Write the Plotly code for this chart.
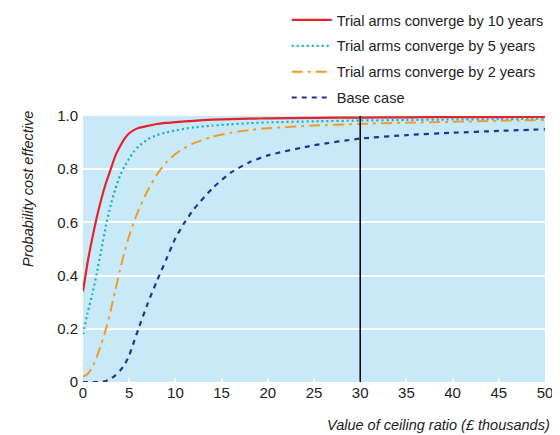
import plotly.graph_objects as go

x_vals = [0, 0.5, 1, 1.5, 2, 2.5, 3, 3.5, 4, 4.5, 5, 5.5, 6, 7, 8, 9, 10, 11, 12, 14, 16, 18, 20, 25, 30, 35, 40, 45, 50]

red_10y = [0.34, 0.45, 0.54, 0.62, 0.69, 0.75, 0.80, 0.85, 0.885, 0.915, 0.935, 0.947, 0.955, 0.963, 0.97, 0.974,
           0.977, 0.980, 0.982, 0.986, 0.988, 0.99, 0.991, 0.993, 0.994, 0.995, 0.996, 0.996, 0.997]
cyan_5y = [0.18, 0.26, 0.33, 0.41, 0.50, 0.59, 0.665, 0.725, 0.775, 0.81, 0.84, 0.865, 0.885, 0.912, 0.928, 0.938,
           0.946, 0.952, 0.957, 0.964, 0.969, 0.973, 0.976, 0.98, 0.983, 0.985, 0.987, 0.988, 0.99]
orange_2y = [0.02, 0.03, 0.055, 0.095, 0.145, 0.20, 0.27, 0.345, 0.42, 0.49, 0.55, 0.60, 0.645, 0.72, 0.78, 0.825,
             0.857, 0.88, 0.898, 0.922, 0.937, 0.947, 0.954, 0.964, 0.97, 0.975, 0.978, 0.982, 0.985]
navy_base = [0.0, 0.0, 0.0, 0.0, 0.001, 0.004, 0.012, 0.025, 0.042, 0.065, 0.10, 0.15, 0.20, 0.295, 0.38, 0.46,
             0.54, 0.60, 0.65, 0.728, 0.787, 0.826, 0.852, 0.89, 0.915, 0.928, 0.937, 0.944, 0.95]

names = ["Trial arms converge by 10 years", "Trial arms converge by 5 years",
         "Trial arms converge by 2 years", "Base case"]

x_ticks = [0, 5, 10, 15, 20, 25, 30, 35, 40, 45, 50]
y_ticks = [0, 0.2, 0.4, 0.6, 0.8, 1.0]
y_ticktext = ["0", "0.2", "0.4", "0.6", "0.8", "1.0"]
ceiling = 30

FONT = "Liberation Sans Narrow, Arial Narrow, Liberation Sans, Arial, sans-serif"

# the page body has an 8px margin; compensate so the figure sits at the window origin
OFF = 8
L, R, T, B = 83 - OFF, 15, 116 - OFF, 53
W, H = 560 - OFF, 435 - OFF
PW, PH = W - L - R, H - T - B

fig = go.Figure()
series = [
    (red_10y, "#e8202a", "solid", 2.2),
    (cyan_5y, "#18adc6", "2px,3px", 2.2),
    (orange_2y, "#f39a2b", "11px,5px,3px,5px", 2.0),
    (navy_base, "#2b2f8f", "5px,5px", 2.2),
]
for i, (ys, col, dash, w) in enumerate(series):
    fig.add_trace(go.Scatter(
        x=x_vals, y=ys, mode="lines", name=names[i], legendgroup=f"g{i}",
        line=dict(color=col, dash=dash, width=w, shape="spline", smoothing=0.6),
    ))

fig.add_shape(type="line", x0=ceiling, x1=ceiling, y0=0, y1=1.0, xref="x", yref="y",
              line=dict(color="black", width=1.5), layer="above")

fig.update_layout(
    width=W, height=H,
    margin=dict(l=L, r=R, t=T, b=B, pad=0, autoexpand=False),
    paper_bgcolor="white", plot_bgcolor="#c8e9f8",
    font=dict(family=FONT, size=15, color="#222222"),
    showlegend=True,
    legend=dict(x=0.441, y=1.421, xanchor="left", yanchor="top", bgcolor="rgba(0,0,0,0)",
                font=dict(size=14.5, family=FONT, color="#222222"), tracegroupgap=4,
                itemwidth=40),
    xaxis=dict(range=[0, 50], tickvals=x_ticks, showgrid=False, zeroline=False,
               ticks="inside", ticklen=4, tickcolor="white", tickwidth=1.5,
               tickfont=dict(size=15), showline=False, fixedrange=True),
    yaxis=dict(range=[0, 1.0], tickvals=y_ticks, ticktext=y_ticktext, showgrid=True,
               gridcolor="white", gridwidth=2, zeroline=False, ticks="", ticklabelstandoff=4,
               tickfont=dict(size=15), showline=False, fixedrange=True),
    annotations=[
        dict(text="<i>Probability cost effective</i>", x=(28 - 83) / PW, y=(382 - 189) / PH,
             xref="paper", yref="paper", xanchor="center", yanchor="middle",
             showarrow=False, textangle=-90, font=dict(size=14.5)),
        dict(text="<i>Value of ceiling ratio (£ thousands)</i>", x=(552 - 83) / PW, y=(382 - 425) / PH,
             xref="paper", yref="paper", xanchor="right", yanchor="middle",
             showarrow=False, font=dict(size=14.5)),
    ],
)

fig.write_html("out.html")
